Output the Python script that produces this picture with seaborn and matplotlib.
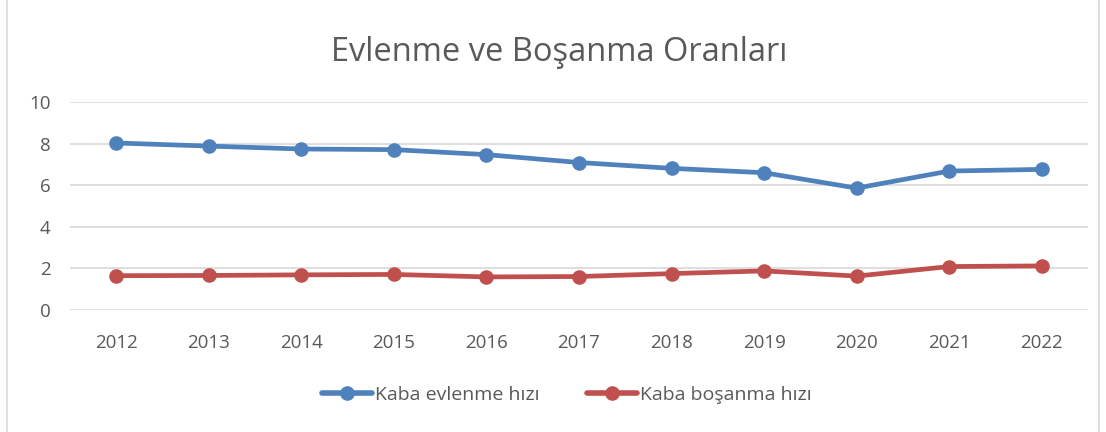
import pandas as pd
import matplotlib.pyplot as plt
import seaborn as sns
from matplotlib.patches import Rectangle

# Veriler
yillar = [2012, 2013, 2014, 2015, 2016, 2017, 2018, 2019, 2020, 2021, 2022]
evlenme = [8.03, 7.88, 7.74, 7.71, 7.47, 7.09, 6.81, 6.60, 5.86, 6.68, 6.76]
bosanma = [1.65, 1.66, 1.69, 1.71, 1.59, 1.61, 1.75, 1.88, 1.63, 2.09, 2.12]
seriler = ["Kaba evlenme hızı", "Kaba boşanma hızı"]
renkler = ["#4F81BD", "#C0504D"]

df = pd.DataFrame({
    "Yil": [str(y) for y in yillar] * 2,
    "Deger": evlenme + bosanma,
    "Seri": [seriler[0]] * len(yillar) + [seriler[1]] * len(yillar),
})

sns.set_style("white")
plt.rcParams['font.family'] = ['Open Sans', 'DejaVu Sans']

fig = plt.figure(figsize=(11.06, 4.32), dpi=100)
ax = fig.add_axes([0.0633, 0.2824, 0.9204, 0.4815])

sns.lineplot(data=df, x="Yil", y="Deger", hue="Seri", palette=renkler,
             marker="o", markersize=10.5, markeredgewidth=0, linewidth=3.4,
             sort=False, ax=ax)

ax.set_ylim(0, 10)
ax.set_xlim(-0.5, 10.5)
ax.set_yticks([0, 2, 4, 6, 8, 10])
ax.yaxis.grid(True, color="#D9D9D9", linewidth=1.2)
ax.set_axisbelow(True)
for s in ax.spines.values():
    s.set_visible(False)
ax.tick_params(axis="both", colors="#595959", labelsize=13.5, length=0)
ax.tick_params(axis="x", pad=17)
ax.tick_params(axis="y", pad=14)
ax.set_xlabel("")
ax.set_ylabel("")

fig.text(0.506, 0.878, "Evlenme ve Boşanma Oranları", ha="center", va="center",
         fontsize=23.5, color="#595959")

leg = ax.legend(loc="center", bbox_to_anchor=(0.488, -0.41), ncol=2, frameon=False,
                fontsize=14, labelcolor="#595959", handlelength=2.6,
                handletextpad=0.15, columnspacing=2.4)
for h in leg.legend_handles:
    h.set_linewidth(4)
    h.set_markersize(10.5)

fig.patches.append(Rectangle((0.006, -0.01), 0.988, 1.02, transform=fig.transFigure,
                             fill=False, edgecolor="#D9D9D9", linewidth=1.2))

fig.savefig("out.png", dpi=100)
